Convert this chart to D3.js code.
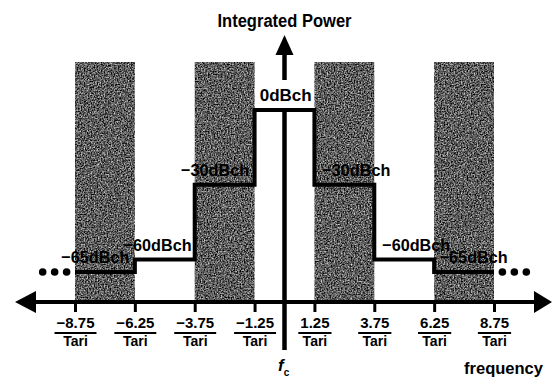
<!DOCTYPE html>
<html>
<head>
<meta charset="utf-8">
<script src="https://cdn.jsdelivr.net/npm/d3@7"></script>
<style>
  body { margin: 0; background: #fff; }
  svg { display: block; font-family: "Liberation Sans", Arial, sans-serif; font-weight: bold; }
</style>
</head>
<body>
<script>
// band edges in units of 1/Tari
const edges = [-8.75, -6.25, -3.75, -1.25, 1.25, 3.75, 6.25, 8.75];
// transmit mask level (dBch) for each span between edges
const levels = [-65, -60, -30, 0, -30, -60, -65];
// shaded channel bands
const bands = [[-8.75, -6.25], [-3.75, -1.25], [1.25, 3.75], [6.25, 8.75]];
// "..." continuation dots at the far ends (-65 dBch)
const dotsX = [-10.1, -9.6, -9.1, 9.1, 9.6, 10.1];
const levelLabels = ['−65dBch', '−60dBch', '−30dBch', '0dBch', '−30dBch', '−60dBch', '−65dBch'];
const labelX = [-7.9, -5.3, -2.9, 0.05, 3.0, 5.5, 7.9];

const width = 552, height = 377;
const axisY = 302, bandTop = 62;

const svg = d3.select(document.body).append('svg')
  .attr('width', width)
  .attr('height', height);

const x = d3.scaleLinear().domain([-8.75, 8.75]).range([75, 494]);
const y = d3.scaleLinear().domain([0, -65]).range([110, 272]);

// grainy halftone look for the bands
const filt = svg.append('defs').append('filter')
  .attr('id', 'grain')
  .attr('color-interpolation-filters', 'sRGB')
  .attr('x', 0).attr('y', 0).attr('width', 1).attr('height', 1);
filt.append('feTurbulence')
  .attr('type', 'fractalNoise')
  .attr('baseFrequency', 0.7)
  .attr('numOctaves', 2)
  .attr('seed', 4)
  .attr('result', 'n');
filt.append('feColorMatrix')
  .attr('in', 'n')
  .attr('type', 'matrix')
  .attr('values', '1.4 0 0 0 -0.34  1.4 0 0 0 -0.34  1.4 0 0 0 -0.34  0 0 0 0 1')
  .attr('result', 'g');
filt.append('feComposite')
  .attr('in', 'g')
  .attr('in2', 'SourceGraphic')
  .attr('operator', 'in');

svg.append('g')
  .selectAll('rect')
  .data(bands)
  .join('rect')
    .attr('x', d => x(d[0]))
    .attr('y', bandTop)
    .attr('width', d => x(d[1]) - x(d[0]))
    .attr('height', axisY - bandTop)
    .attr('fill', '#555')
    .attr('filter', 'url(#grain)');

// power axis (drawn under the labels)
const cx = x(0);
svg.append('line')
  .attr('x1', cx).attr('x2', cx)
  .attr('y1', 52).attr('y2', 350)
  .attr('stroke', '#000')
  .attr('stroke-width', 4.5);
svg.append('path')
  .attr('d', `M${cx},35 L${cx - 9},55 L${cx + 9},55 Z`)
  .attr('fill', '#000');

// step mask
let pts = levels.map((l, i) => [edges[i], l]);
pts.push([edges[edges.length - 1], levels[levels.length - 1]]);
svg.append('path')
  .attr('d', d3.line().x(d => x(d[0])).y(d => y(d[1])).curve(d3.curveStepAfter)(pts))
  .attr('fill', 'none')
  .attr('stroke', '#000')
  .attr('stroke-width', 4);

svg.append('g')
  .selectAll('circle')
  .data(dotsX)
  .join('circle')
    .attr('cx', d => x(d))
    .attr('cy', y(-65))
    .attr('r', 3.8)
    .attr('fill', '#000');

// white knock-out behind the 0dBch label
svg.append('rect')
  .attr('x', x(edges[3]) + 2)
  .attr('y', 80)
  .attr('width', x(edges[4]) - x(edges[3]) - 4)
  .attr('height', y(0) - 82)
  .attr('fill', '#fff');

// level labels
svg.append('g')
  .selectAll('text')
  .data(levelLabels)
  .join('text')
    .attr('x', (d, i) => x(labelX[i]))
    .attr('y', (d, i) => y(levels[i]) - 9)
    .attr('text-anchor', 'middle')
    .attr('font-size', 17)
    .attr('textLength', d => d.length > 5 ? 68 : 52)
    .attr('lengthAdjust', 'spacingAndGlyphs')
    .text(d => d);

// frequency axis with ticks and fraction labels
const ax = svg.append('g')
  .attr('transform', `translate(0,${axisY})`)
  .call(d3.axisBottom(x).tickValues(edges).tickSize(10).tickFormat(d3.format('.2f')));
ax.select('.domain').remove();
ax.selectAll('.tick line').attr('stroke', '#000').attr('stroke-width', 3);
ax.selectAll('.tick text')
  .attr('y', 26)
  .attr('dy', 0)
  .attr('fill', '#000')
  .attr('font-size', 15)
  .attr('font-weight', 'bold')
  .attr('font-family', '"Liberation Sans", Arial, sans-serif');
ax.selectAll('.tick').each(function() {
  const g = d3.select(this);
  const w = g.select('text').node().getComputedTextLength() + 4;
  g.append('line')
    .attr('x1', -w / 2).attr('x2', w / 2)
    .attr('y1', 31).attr('y2', 31)
    .attr('stroke', '#000')
    .attr('stroke-width', 2);
  g.append('text')
    .attr('y', 44)
    .attr('text-anchor', 'middle')
    .attr('fill', '#000')
    .attr('font-size', 14)
    .attr('font-weight', 'bold')
    .attr('font-family', '"Liberation Sans", Arial, sans-serif')
    .text('Tari');
});

svg.append('line')
  .attr('x1', 30).attr('x2', 538)
  .attr('y1', axisY).attr('y2', axisY)
  .attr('stroke', '#000')
  .attr('stroke-width', 4);
svg.append('path')
  .attr('d', `M15,${axisY} L36,${axisY - 11} L36,${axisY + 11} Z`)
  .attr('fill', '#000');
svg.append('path')
  .attr('d', `M552,${axisY} L534,${axisY - 11} L534,${axisY + 11} Z`)
  .attr('fill', '#000');

svg.append('text')
  .attr('x', cx)
  .attr('y', 27)
  .attr('text-anchor', 'middle')
  .attr('font-size', 18)
  .attr('textLength', 134)
  .attr('lengthAdjust', 'spacingAndGlyphs')
  .text('Integrated Power');

svg.append('text')
  .attr('x', 543)
  .attr('y', 374)
  .attr('text-anchor', 'end')
  .attr('font-size', 16)
  .attr('textLength', 79)
  .attr('lengthAdjust', 'spacingAndGlyphs')
  .text('frequency');

const fc = svg.append('text')
  .attr('x', 278)
  .attr('y', 371)
  .attr('font-size', 17)
  .attr('font-style', 'italic');
fc.append('tspan').text('f');
fc.append('tspan').attr('font-size', 10).attr('font-style', 'normal').attr('dy', 5).text('c');
</script>
</body>
</html>
